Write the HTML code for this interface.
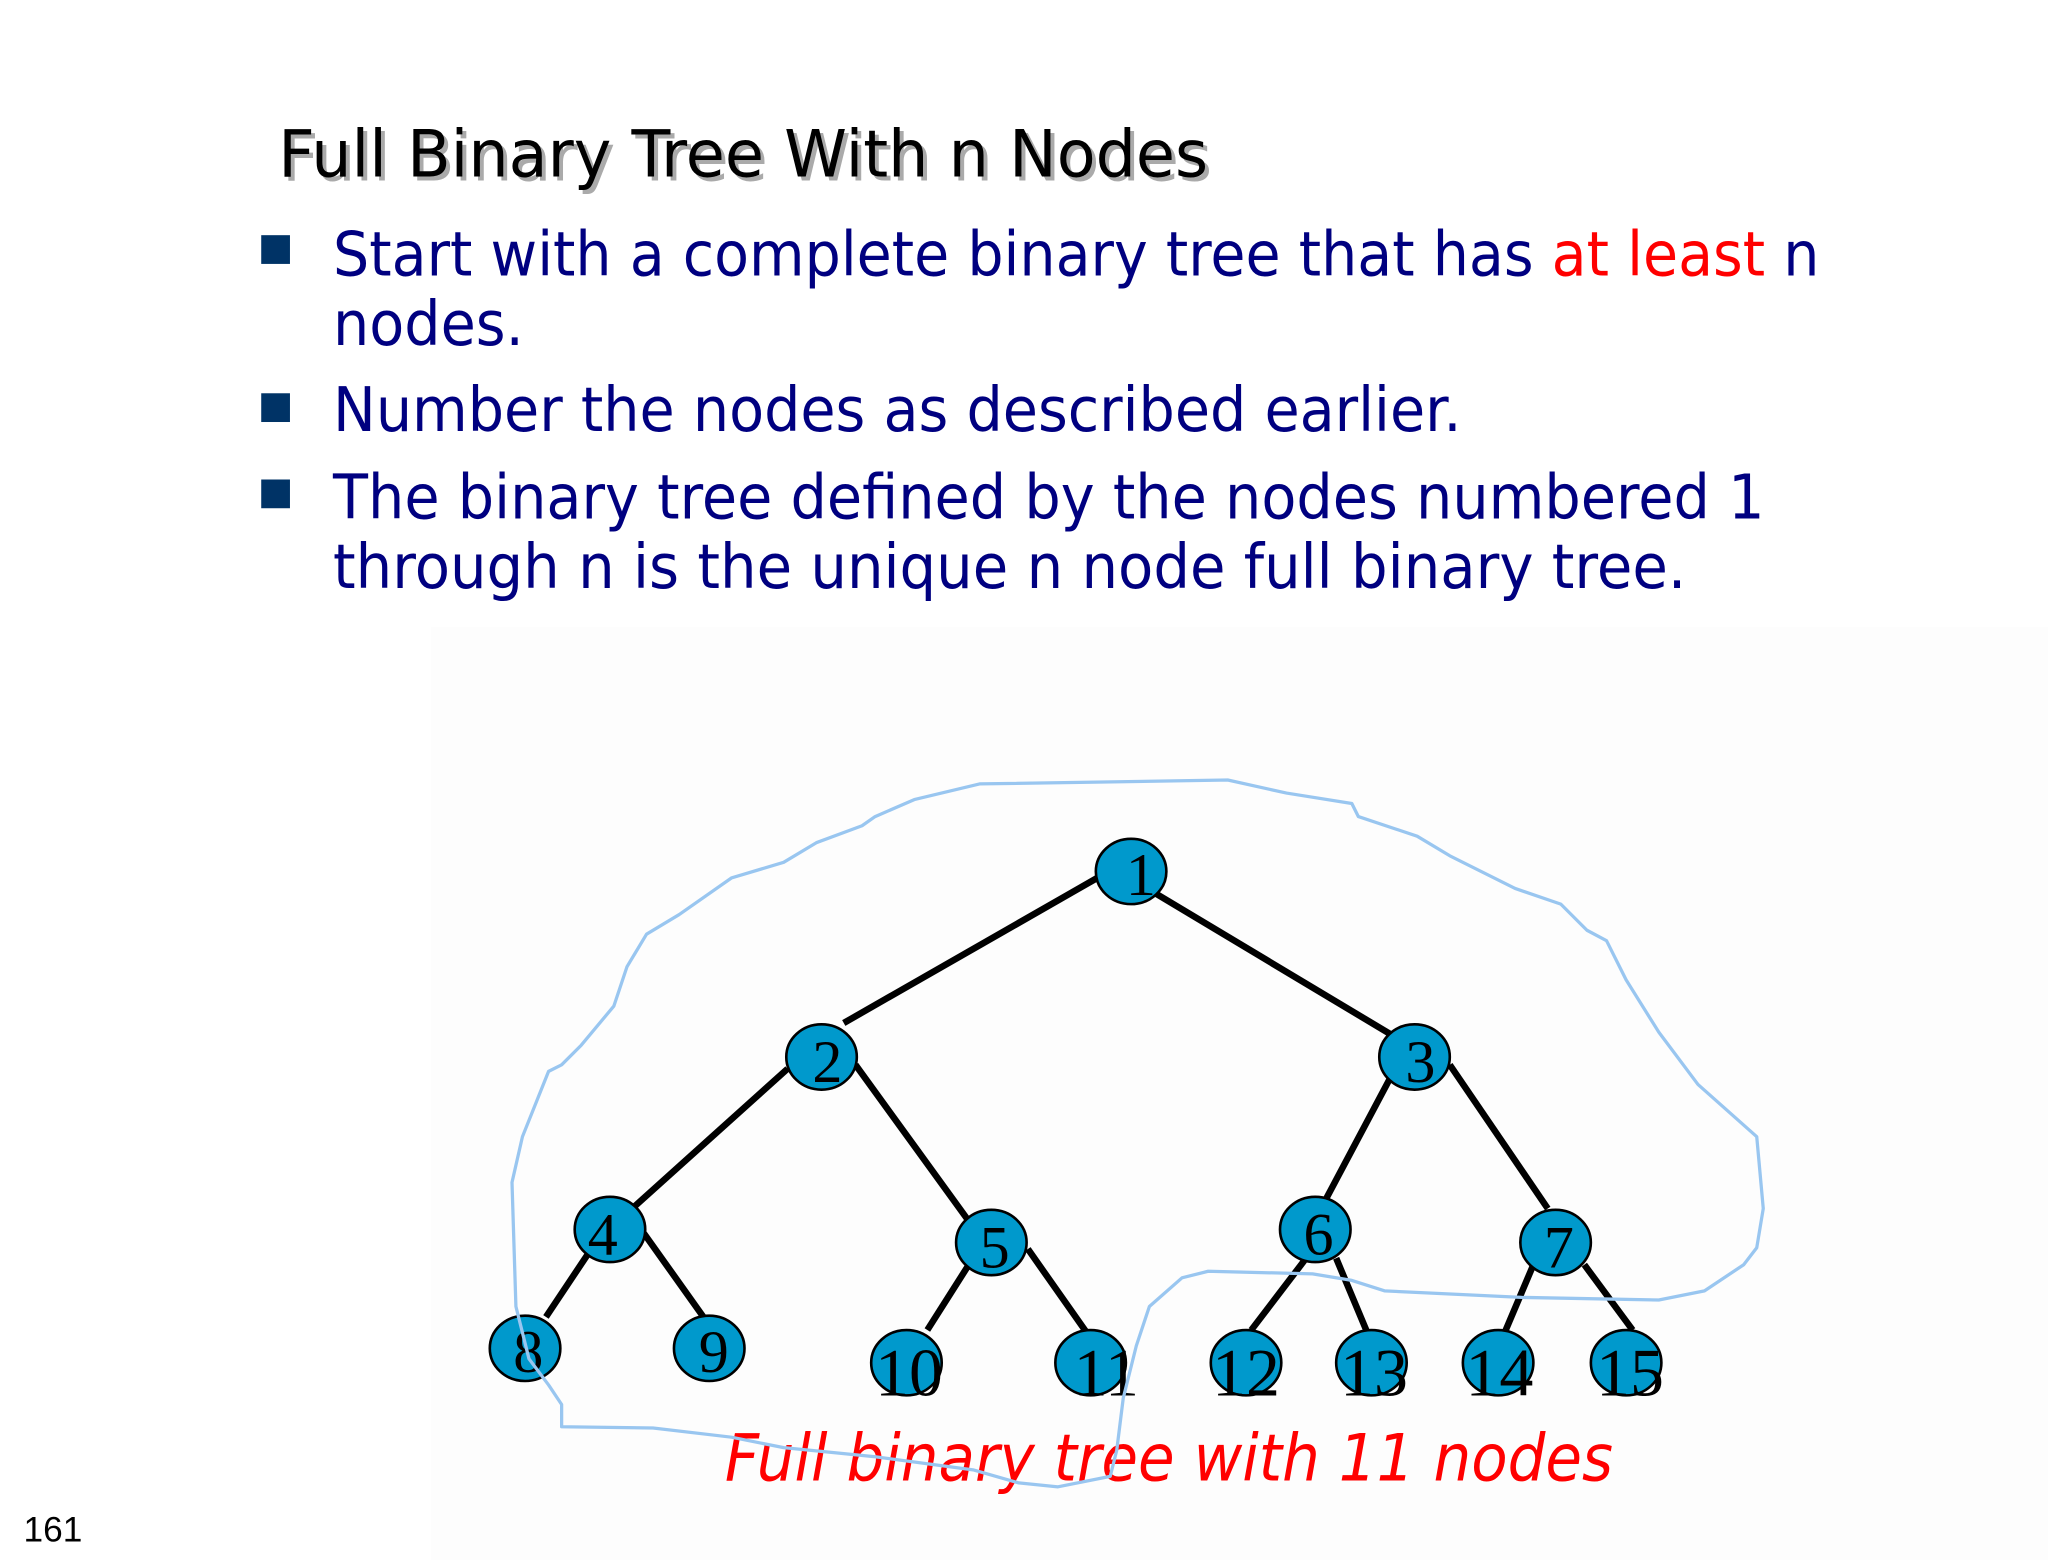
<!DOCTYPE html>
<html><head><meta charset="utf-8"><style>
html,body{margin:0;padding:0;background:#fff;}
svg{display:block;}
</style></head><body>
<svg width="2048" height="1560" viewBox="0 0 1568 1194" preserveAspectRatio="none" xmlns="http://www.w3.org/2000/svg">
<rect x="0" y="0" width="1568" height="1194" fill="#fff"/>
<rect x="330" y="480" width="1238" height="714" fill="#fdfdfd"/>
<g font-family="'DejaVu Sans','Liberation Sans',sans-serif">
<text x="216" y="138" font-size="50" fill="#aaa" textLength="712" lengthAdjust="spacingAndGlyphs">Full Binary Tree With n Nodes</text>
<text x="213" y="135" font-size="50" fill="#000" textLength="712" lengthAdjust="spacingAndGlyphs">Full Binary Tree With n Nodes</text>
<g fill="#003366">
<rect x="200" y="180" width="22" height="22"/>
<rect x="200" y="301" width="22" height="22"/>
<rect x="200" y="367" width="22" height="22"/>
</g>
<g font-size="47" fill="#000080">
<text x="255" y="211" textLength="1138" lengthAdjust="spacingAndGlyphs">Start with a complete binary tree that has <tspan fill="#ff0000">at least</tspan> n</text>
<text x="255" y="264" textLength="146" lengthAdjust="spacingAndGlyphs">nodes.</text>
<text x="255" y="330" textLength="864" lengthAdjust="spacingAndGlyphs">Number the nodes as described earlier.</text>
<text x="255" y="397" textLength="1096" lengthAdjust="spacingAndGlyphs">The binary tree defined by the nodes numbered 1</text>
<text x="255" y="450" textLength="1036" lengthAdjust="spacingAndGlyphs">through n is the unique n node full binary tree.</text>
</g>
<text x="555" y="1133" font-size="50" font-style="italic" fill="#ff0000" textLength="680" lengthAdjust="spacingAndGlyphs">Full binary tree with 11 nodes</text>
</g>
<text x="18" y="1180" font-family="'Liberation Sans',sans-serif" font-size="27" fill="#000">161</text>
<g stroke="#000" stroke-width="5" stroke-linecap="butt">
<line x1="840" y1="672" x2="646" y2="783"/>
<line x1="880" y1="681" x2="1067" y2="793"/>
<line x1="603" y1="818" x2="484" y2="925"/>
<line x1="655" y1="815" x2="742" y2="935"/>
<line x1="1066" y1="822" x2="1014" y2="920"/>
<line x1="1110" y1="815" x2="1185" y2="925"/>
<line x1="450" y1="960" x2="418" y2="1008"/>
<line x1="493" y1="944" x2="540" y2="1010"/>
<line x1="743" y1="966" x2="710" y2="1018"/>
<line x1="787" y1="956" x2="832" y2="1020"/>
<line x1="1000" y1="963" x2="958" y2="1018"/>
<line x1="1023" y1="963" x2="1046" y2="1018"/>
<line x1="1174" y1="968" x2="1152" y2="1020"/>
<line x1="1213" y1="968" x2="1250" y2="1018"/>
</g>
<g fill="#0099cc" stroke="#000" stroke-width="2">
<ellipse cx="866" cy="667" rx="27" ry="25"/>
<ellipse cx="629" cy="809" rx="27" ry="25"/>
<ellipse cx="1083" cy="809" rx="27" ry="25"/>
<ellipse cx="467" cy="941" rx="27" ry="25"/>
<ellipse cx="759" cy="951" rx="27" ry="25"/>
<ellipse cx="1007" cy="941" rx="27" ry="25"/>
<ellipse cx="1191" cy="951" rx="27" ry="25"/>
<ellipse cx="402" cy="1032" rx="27" ry="25"/>
<ellipse cx="543" cy="1032" rx="27" ry="25"/>
<ellipse cx="694" cy="1043" rx="27" ry="25"/>
<ellipse cx="835" cy="1043" rx="27" ry="25"/>
<ellipse cx="954" cy="1043" rx="27" ry="25"/>
<ellipse cx="1050" cy="1043" rx="27" ry="25"/>
<ellipse cx="1147" cy="1043" rx="27" ry="25"/>
<ellipse cx="1245" cy="1043" rx="27" ry="25"/>
</g>
<g font-family="'Liberation Serif',serif" font-size="46" fill="#000">
<text x="862" y="685">1</text>
<text x="622" y="828">2</text>
<text x="1076" y="828">3</text>
<text x="450" y="960">4</text>
<text x="750" y="970">5</text>
<text x="998" y="960">6</text>
<text x="1182" y="970">7</text>
<text x="393" y="1050">8</text>
<text x="535" y="1050">9</text>
</g>
<g font-family="'Liberation Serif',serif" font-size="52" fill="#000">
<text x="670" y="1068">10</text>
<text x="822" y="1068">11</text>
<text x="928" y="1068">12</text>
<text x="1026" y="1068">13</text>
<text x="1122" y="1068">14</text>
<text x="1222" y="1068">15</text>
</g>
<path fill="none" stroke="#99c6f0" stroke-width="2.5" stroke-linejoin="round" d="M430,815 L445,800 L470,770 L480,740 L495,715 L520,700 L560,672 L600,660 L625,645 L660,632 L670,625 L700,612 L750,600 L940,597 L985,607 L1035,615 L1040,625 L1085,640 L1110,655 L1160,680 L1195,692 L1215,712 L1230,720 L1245,750 L1270,790 L1300,830 L1345,870 L1350,925 L1345,955 L1335,968 L1305,988 L1270,995 L1165,993 L1060,988 L1035,980 L1005,975 L925,973 L905,978 L880,1000 L870,1030 L860,1070 L855,1110 L850,1130 L810,1138 L780,1135 L745,1125 L670,1115 L600,1108 L560,1100 L500,1093 L430,1092 L430,1075 L420,1060 L405,1040 L395,1000 L392,905 L400,870 L412,840 L420,820 Z"/>
</svg>
</body></html>
